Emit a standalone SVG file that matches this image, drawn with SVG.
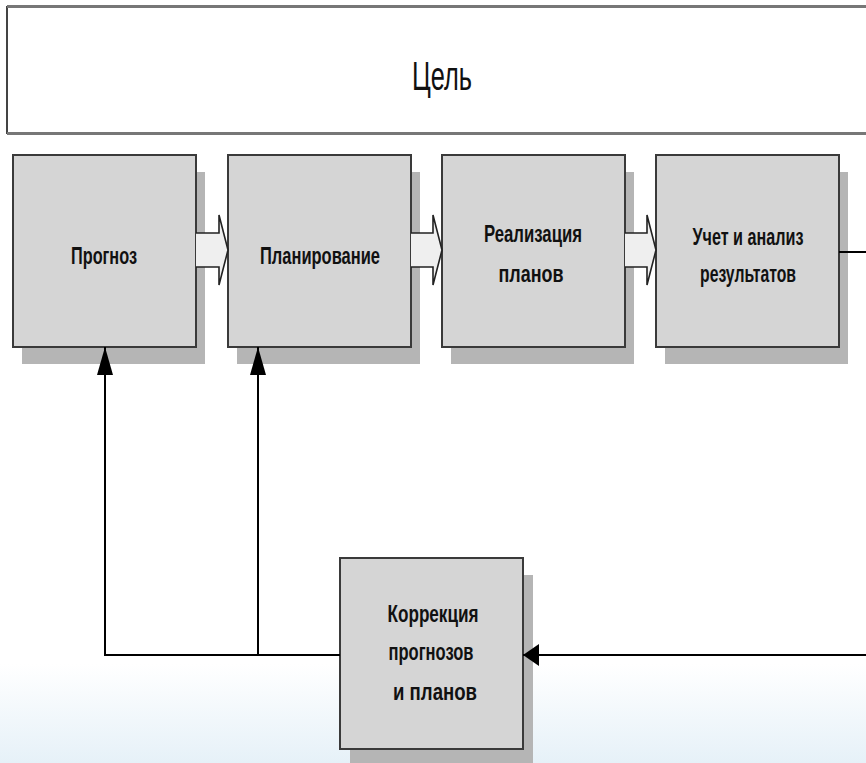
<svg xmlns="http://www.w3.org/2000/svg" width="866" height="763" viewBox="0 0 866 763">
<defs>
<linearGradient id="bg" x1="0" y1="0" x2="0" y2="1">
<stop offset="0" stop-color="#ffffff"/>
<stop offset="0.87" stop-color="#ffffff"/>
<stop offset="1" stop-color="#e6f1f8"/>
</linearGradient>
<marker id="ahUp" viewBox="0 0 28 16" refX="28" refY="8" markerWidth="28" markerHeight="16" markerUnits="userSpaceOnUse" orient="auto">
<path d="M0,0 L28,8 L0,16 Z" fill="#000"/>
</marker>
<marker id="ahL" viewBox="0 0 16 22" refX="16" refY="11" markerWidth="16" markerHeight="22" markerUnits="userSpaceOnUse" orient="auto">
<path d="M0,0 L16,11 L0,22 Z" fill="#000"/>
</marker>
<style>
.box{fill:#d5d5d5;stroke:#3a3a3a;stroke-width:2}
.sh{fill:#b5b5b5}
.lbl{font-family:"Liberation Sans",Arial,sans-serif;font-weight:bold;font-size:24px;fill:#111;text-anchor:middle}
.blk{fill:#efefef;stroke:#222;stroke-width:1.6;stroke-linejoin:miter}
.ln{fill:none;stroke:#000;stroke-width:2}
</style>
</defs>
<rect x="0" y="0" width="866" height="763" fill="url(#bg)"/>
<g id="goal">
<rect x="7" y="7" width="870" height="126" fill="#fff" stroke="#444" stroke-width="2"/>
<line x1="7" y1="6.5" x2="866" y2="6.5" stroke="#777" stroke-width="3"/>
<line x1="7" y1="133.5" x2="866" y2="133.5" stroke="#777" stroke-width="3"/>
<text x="442" y="90" font-family="Liberation Sans,Arial,sans-serif" font-size="40" fill="#111" text-anchor="middle" textLength="60" lengthAdjust="spacingAndGlyphs">Цель</text>
</g>
<g id="prognoz">
<rect class="sh" x="22" y="172" width="183" height="192"/>
<rect class="box" x="13" y="155" width="183" height="192"/>
<text class="lbl" x="104" y="264" textLength="66" lengthAdjust="spacingAndGlyphs">Прогноз</text>
</g>
<g id="planirovanie">
<rect class="sh" x="237" y="172" width="183" height="192"/>
<rect class="box" x="228" y="155" width="183" height="192"/>
<text class="lbl" x="320" y="264" textLength="120" lengthAdjust="spacingAndGlyphs">Планирование</text>
</g>
<g id="realizaciya">
<rect class="sh" x="451" y="172" width="183" height="192"/>
<rect class="box" x="442" y="155" width="183" height="192"/>
<text class="lbl" x="533" y="242" textLength="98" lengthAdjust="spacingAndGlyphs">Реализация</text>
<text class="lbl" x="531" y="282" textLength="65" lengthAdjust="spacingAndGlyphs">планов</text>
</g>
<g id="uchet">
<rect class="sh" x="665" y="172" width="183" height="192"/>
<rect class="box" x="656" y="155" width="183" height="192"/>
<text class="lbl" x="748" y="245" textLength="111" lengthAdjust="spacingAndGlyphs">Учет и анализ</text>
<text class="lbl" x="748" y="282" textLength="96" lengthAdjust="spacingAndGlyphs">результатов</text>
</g>
<g id="korrekciya">
<rect class="sh" x="350" y="575" width="183" height="192"/>
<rect class="box" x="340" y="558" width="183" height="191"/>
<text class="lbl" x="433" y="622" textLength="91" lengthAdjust="spacingAndGlyphs">Коррекция</text>
<text class="lbl" x="431" y="660" textLength="85" lengthAdjust="spacingAndGlyphs">прогнозов</text>
<text class="lbl" x="435" y="700" textLength="84" lengthAdjust="spacingAndGlyphs">и планов</text>
</g>
<g id="connectors">
<path class="blk" d="M196,233 H219 V215 L228,250 L219,285 V267 H196"/>
<path class="blk" d="M411,233 H433 V215 L442,250 L433,285 V267 H411"/>
<path class="blk" d="M625,233 H647 V215 L656,250 L647,285 V267 H625"/>
<path class="ln" d="M839,252 H870"/>
<path class="ln" d="M870,655 H523" marker-end="url(#ahL)"/>
<path class="ln" d="M340,655 H105 V347" marker-end="url(#ahUp)"/>
<path class="ln" d="M258,655 V347" marker-end="url(#ahUp)"/>
</g>
</svg>
